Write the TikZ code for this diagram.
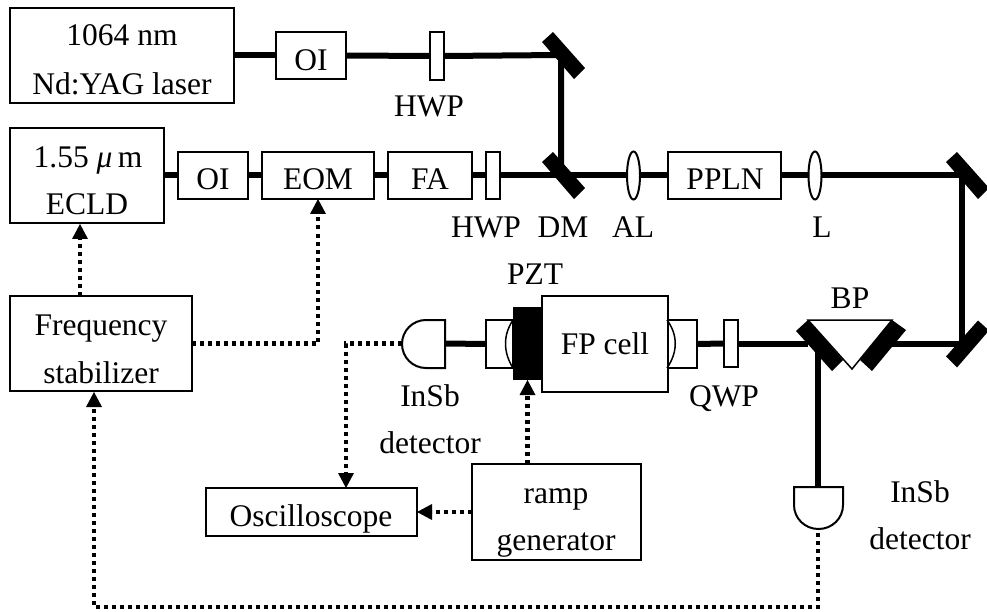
\documentclass[tikz,border=0pt]{standalone}
\usepackage{fontspec}
\setmainfont{Liberation Serif}
\usetikzlibrary{arrows.meta,shapes.geometric}
\tikzset{
  box/.style={draw=black,fill=white,line width=2pt,inner sep=0pt,outer sep=0pt,rectangle},
  lensnode/.style={draw=black,fill=white,line width=2pt,inner sep=0pt,outer sep=0pt,ellipse,minimum width=13pt,minimum height=48pt},
  beam/.style={line width=6pt,draw=black},
  mirror/.style={fill=black,draw=none},
  thinline/.style={line width=1.5pt,draw=black},
  ctrl/.style={line width=4.5pt,draw=black,dash pattern=on 4pt off 4pt},
  ctrlarrow/.style={ctrl,-{Triangle[length=15pt,width=16pt,line width=0pt]}},
  txt/.style={anchor=base,inner sep=0pt,outer sep=0pt,font=\fontsize{31.5}{36}\selectfont}
}
\newcommand{\bx}[5]{\path ({(#2+#4)/2},{(#3+#5)/2}) node[box,minimum width={#4-#2},minimum height={#5-#3}] (#1) {};}
\newcommand{\lbl}[4]{\node[txt] (#1) at (#2,#3) {#4};}
\newcommand{\mirrorA}[2]{\fill[mirror] (#1-10.5,#2-23.5) -- (#1+21.5,#2+12.5) -- (#1+10.5,#2+23.5) -- (#1-21.5,#2-13.5) -- cycle;}
\begin{document}
\begin{tikzpicture}[x=1pt,y=-1pt]
\useasboundingbox (0,0) rectangle (987,612);
% boxes
\bx{laser}{10}{8}{234}{103}
\bx{oia}{276}{32}{346}{79}
\bx{hwpa}{430}{32}{444}{80}
\bx{ecld}{10}{128}{164}{223}
\bx{oib}{178}{152}{248}{199}
\bx{eom}{262}{152}{374}{199}
\bx{fa}{388}{152}{472}{199}
\bx{hwpb}{486}{152}{500}{199}
\node[lensnode] (al) at (633.5,175.5) {};
\bx{ppln}{668}{152}{781}{199}
\node[lensnode] (lens) at (815,175.5) {};
\bx{freq}{10}{296}{192}{391}
\bx{osc}{206}{488}{417}{536}
\bx{ramp}{472}{464}{641}{560}
\bx{qwp}{724}{320}{738}{367}
\bx{wina}{486}{320}{513}{368}
\bx{winb}{668}{320}{697}{368}
\bx{fp}{542}{296}{668}{392}
\node[fill=black,draw=none,inner sep=0pt,outer sep=0pt,minimum width=29pt,minimum height=73pt] (pzt) at (527.5,343.5) {};
% coordinates
\coordinate (ma) at (561,55);
\coordinate (dm) at (561,175.5);
\coordinate (mc) at (962,175.5);
\coordinate (md) at (962,343.5);
\coordinate (bpl) at (808,343.5);
\coordinate (bpr) at (892,343.5);
\coordinate (bpd) at (818,343.5);
\coordinate (dettop) at (818,487);
\coordinate (detw) at (402,343.5);
\coordinate (dete) at (445,343.5);
\coordinate (detb) at (818,533);
\coordinate (ecldin) at (80,224);
\coordinate (freqout) at (80,296);
\coordinate (osctop) at (346,488);
\coordinate (fba) at (818,607);
\coordinate (fbb) at (94,607);
\coordinate (freqin) at (94,392);
% beams
\draw[beam] (laser.east) -- (oia.west);
\draw[beam] (oia.east) -- (hwpa.west);
\draw[beam] (hwpa.east) -- (ma) -- (dm);
\draw[beam] (ecld.east) -- (oib.west);
\draw[beam] (oib.east) -- (eom.west);
\draw[beam] (eom.east) -- (fa.west);
\draw[beam] (fa.east) -- (hwpb.west);
\draw[beam] (hwpb.east) -- (al.west);
\draw[beam] (al.east) -- (ppln.west);
\draw[beam] (ppln.east) -- (lens.west);
\draw[beam] (lens.east) -- (mc) -- (md) -- (bpr);
\draw[beam] (winb.east) -- (qwp.west);
\draw[beam] (qwp.east) -- (bpl);
\draw[beam] (bpd) -- (dettop);
\draw[beam] (dete) -- (wina.west);
% mirrors
\mirrorA{563.5}{55.5}
\mirrorA{563.5}{175.5}
\mirrorA{967.5}{175.5}
\fill[mirror] (978,320.5) -- (946,356.5) -- (957,367.5) -- (989,330.5) -- cycle;
% Brewster prism
\draw[thinline,fill=white] (808,320) -- (892,320) -- (852,369) -- cycle;
\fill[mirror] (808,320) -- (796,331) -- (832,371) -- (843,360) -- cycle;
\fill[mirror] (892,320) -- (906,330) -- (872,371) -- (860,360) -- cycle;
% cell windows
\draw[line width=1.5pt] (513,320) .. controls (503,335) and (503,352) .. (513,368);
\draw[line width=1.5pt] (667,320) .. controls (678,335) and (678,352) .. (667,368);
% detectors
\draw[box] (445,320) -- (426,320) .. controls (412.7,320) and (402,330.7) .. (402,344) .. controls (402,357.3) and (412.7,368) .. (426,368) -- (445,368) -- cycle;
\draw[box] (794,487) -- (843,487) -- (843,505) .. controls (843,518.5) and (832,529) .. (818.5,529) .. controls (805,529) and (794,518.5) .. (794,505) -- cycle;
% control lines
\draw[ctrlarrow] (freqout) -- (ecldin);
\draw[ctrlarrow] (freq.east) -| (eom.south);
\draw[ctrlarrow] (detw) -| (osctop);
\draw[ctrlarrow] (ramp.west |- osc.east) -- (osc.east);
\draw[ctrlarrow] (ramp.north -| pzt.south) -- (pzt.south);
\draw[ctrlarrow] (detb) -- (fba) -- (fbb) -- (freqin);
% labels
\lbl{tlasera}{122}{46}{1064 nm}
\lbl{tlaserb}{122}{95}{Nd:YAG laser}
\lbl{toia}{311}{71}{OI}
\lbl{thwpa}{429}{117}{HWP}
\lbl{tecld}{88}{168}{1.55 \textit{μ}\,m}
\lbl{tecldb}{87}{215}{ECLD}
\lbl{toib}{213}{190}{OI}
\lbl{teom}{318}{190}{EOM}
\lbl{tfa}{430}{190}{FA}
\lbl{tppln}{725}{190}{PPLN}
\lbl{thwpb}{486}{237}{HWP}
\lbl{tdm}{563}{237}{DM}
\lbl{tal}{633}{237}{AL}
\lbl{tl}{822}{237}{L}
\lbl{tpzt}{535}{284}{PZT}
\lbl{tbp}{850}{308}{BP}
\lbl{tfp}{605}{354}{FP cell}
\lbl{tfreqa}{101}{335}{Frequency}
\lbl{tfreqb}{101}{383}{stabilizer}
\lbl{tinsba}{430}{406}{InSb}
\lbl{tdeta}{430}{453}{detector}
\lbl{tqwp}{724}{406}{QWP}
\lbl{tinsbb}{920}{502}{InSb}
\lbl{tdetb}{920}{549}{detector}
\lbl{tosc}{311}{526}{Oscilloscope}
\lbl{trampa}{556}{503}{ramp}
\lbl{trampb}{556}{550}{generator}
\end{tikzpicture}
\end{document}
